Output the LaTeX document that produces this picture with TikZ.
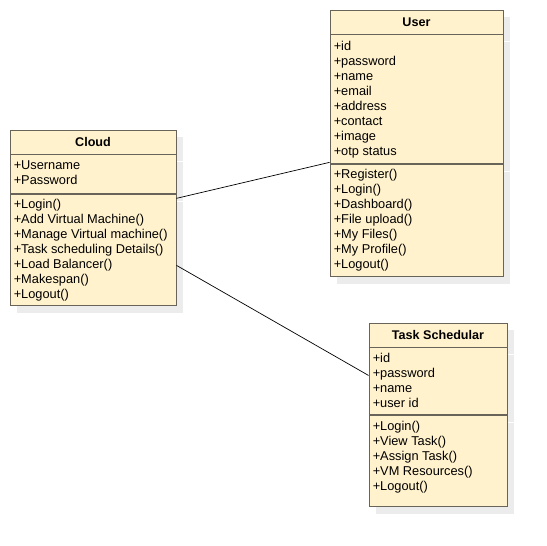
\documentclass[tikz,border=0pt]{standalone}
\usepackage{fontspec}
\setmainfont{Liberation Sans}
\definecolor{umlfill}{RGB}{255,242,204}
\definecolor{umlline}{RGB}{105,100,90}
\definecolor{sombra}{RGB}{236,236,236}
\usetikzlibrary{positioning,shadows}

\begin{document}
\begin{tikzpicture}[
        x=1pt,y=-1pt,
        font=\fontsize{12.8pt}{15pt}\selectfont,
        classhead/.style={draw=umlline,fill=umlfill,font=\fontsize{12.6pt}{15pt}\selectfont\bfseries,
                    line width=0.9pt,inner sep=0pt,minimum height=24pt,
                    drop shadow={shadow xshift=7pt,shadow yshift=-7pt,fill=sombra,opacity=1}},
        classpart/.style={draw=umlline,fill=umlfill,line width=0.9pt,inner sep=0pt,
                    drop shadow={shadow xshift=7pt,shadow yshift=-7pt,fill=sombra,opacity=1}},
        members/.style={anchor=north west,align=left,inner sep=0pt,execute at begin node=\strut},
        link/.style={draw=black,line width=0.7pt}]
        \useasboundingbox (0,0) rectangle (546,546);
        % Cloud
        \node[classhead,minimum width=166pt] (cloud) at (93,142) {Cloud};
        \node[classpart,minimum width=166pt,minimum height=39pt,below=0pt of cloud] (cloudattr) {};
        \node[classpart,minimum width=166pt,minimum height=111pt,below=0pt of cloudattr] (cloudops) {};
        \node[members] (cloudattrtxt) at ([xshift=4pt,yshift=-6.5pt]cloudattr.north west)
          {+Username\\+Password};
        \node[members] (cloudopstxt) at ([xshift=4pt,yshift=-4.5pt]cloudops.north west)
          {+Login()\\+Add Virtual Machine()\\+Manage Virtual machine()\\+Task scheduling Details()\\+Load Balancer()\\+Makespan()\\+Logout()};
        % User
        \node[classhead,minimum width=173pt] (user) at (416.5,22) {User};
        \node[classpart,minimum width=173pt,minimum height=129pt,below=0pt of user] (userattr) {};
        \node[classpart,minimum width=173pt,minimum height=112pt,below=0pt of userattr] (userops) {};
        \node[members] (userattrtxt) at ([xshift=4pt,yshift=-6.5pt]userattr.north west)
          {+id\\+password\\+name\\+email\\+address\\+contact\\+image\\+otp status};
        \node[members] (useropstxt) at ([xshift=4pt,yshift=-4.5pt]userops.north west)
          {+Register()\\+Login()\\+Dashboard()\\+File upload()\\+My Files()\\+My Profile()\\+Logout()};
        % Task Schedular
        \node[classhead,minimum width=138pt] (task) at (438,335) {Task Schedular};
        \node[classpart,minimum width=138pt,minimum height=67pt,below=0pt of task] (taskattr) {};
        \node[classpart,minimum width=138pt,minimum height=91pt,below=0pt of taskattr] (taskops) {};
        \node[members] (taskattrtxt) at ([xshift=4pt,yshift=-5.5pt]taskattr.north west)
          {+id\\+password\\+name\\+user id};
        \node[members] (taskopstxt) at ([xshift=4pt,yshift=-5.5pt]taskops.north west)
          {+Login()\\+View Task()\\+Assign Task()\\+VM Resources()\\+Logout()};
        % associations
        \draw[link] ([yshift=-4pt]cloudops.north east) -- ([yshift=2pt]userops.north west);
        \draw[link] ([yshift=-71pt]cloudops.north east) -- ([yshift=-28pt]taskattr.north west);
      \end{tikzpicture}
\end{document}
